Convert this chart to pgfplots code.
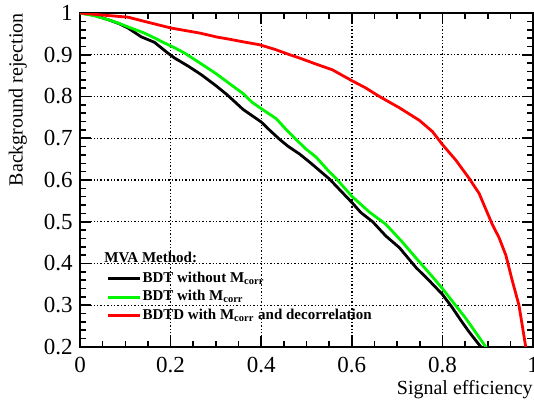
\documentclass[border=0pt]{standalone}
\usepackage{pgfplots}
\pgfplotsset{compat=1.18}
\usepackage{fontspec}
\setmainfont{Liberation Serif}
\definecolor{rootgreen}{RGB}{0,245,0}
\definecolor{rootred}{RGB}{255,0,0}
\begin{document}
\begin{tikzpicture}
\begin{axis}[
  scale only axis,
  width=226.5pt, height=167pt,
  xmin=0, xmax=1, ymin=0.2, ymax=1,
  xtick={0,0.2,0.4,0.6,0.8,1},
  ytick={0.2,0.3,0.4,0.5,0.6,0.7,0.8,0.9,1},
  xticklabels={0,0.2,0.4,0.6,0.8,1},
  yticklabels={0.2,0.3,0.4,0.5,0.6,0.7,0.8,0.9,1},
  minor x tick num=3,
  minor y tick num=4,
  tick align=inside,
  xtick pos=both, ytick pos=both,
  xticklabel pos=lower, yticklabel pos=left,
  major tick length=5.5pt, minor tick length=3pt,
  every tick/.style={black, line width=0.8pt},
  axis line style={line width=1pt},
  grid=major,
  major grid style={black, line width=0.7pt, dash pattern=on 0.7pt off 1pt},
  /pgf/number format/assume math mode=true,
  ticklabel style={font=\fontsize{11.5}{13}\selectfont},
  yticklabel style={inner sep=0pt, xshift=-3.5pt},
  xticklabel style={inner sep=0pt, yshift=-5pt},
  xlabel={Signal efficiency},
  ylabel={Background rejection},
  label style={font=\fontsize{11}{13}\selectfont},
  every axis x label/.style={at={(rel axis cs:1,0)}, anchor=base east, yshift=-24pt, inner sep=0pt},
  every axis y label/.style={at={(rel axis cs:-0.137,1)}, rotate=90, anchor=east, inner sep=0pt},
  legend style={draw=none, fill=none, at={(axis cs:0.059,0.384)}, anchor=north west,
    font=\fontsize{7.5}{9}\selectfont\bfseries, inner sep=0pt, outer sep=0pt,
    row sep=0.8pt, nodes={inner sep=0.5pt, text height=5.5pt, text depth=2pt}},
  legend cell align=left,
  legend image code/.code={\draw[#1, line width=1.4pt] (0pt,0pt) -- (16pt,0pt);},
]
\addplot[black, line width=1.4pt] coordinates {
(0,1) (0.03,0.995) (0.062,0.984) (0.085,0.975) (0.106,0.964) (0.135,0.943)
(0.164,0.930) (0.194,0.904) (0.209,0.892) (0.240,0.872) (0.268,0.852)
(0.300,0.826) (0.326,0.803) (0.360,0.769) (0.400,0.739) (0.420,0.718)
(0.441,0.697) (0.459,0.681) (0.485,0.662) (0.510,0.640) (0.551,0.602)
(0.602,0.544) (0.620,0.522) (0.646,0.500) (0.675,0.466) (0.705,0.438)
(0.742,0.390) (0.770,0.360) (0.800,0.326) (0.822,0.294) (0.840,0.265)
(0.859,0.236) (0.885,0.200) (0.892,0.190)
};
\addlegendentry{BDT without M\textsubscript{corr}}
\addplot[rootgreen, line width=1.4pt] coordinates {
(0,1) (0.03,0.994) (0.062,0.984) (0.084,0.976) (0.110,0.965) (0.142,0.952)
(0.165,0.940) (0.187,0.928) (0.210,0.916) (0.231,0.904) (0.268,0.878)
(0.300,0.855) (0.326,0.834) (0.360,0.807) (0.380,0.786) (0.400,0.771)
(0.433,0.747) (0.455,0.721) (0.477,0.697) (0.499,0.674) (0.521,0.655)
(0.550,0.620) (0.565,0.604) (0.601,0.560) (0.638,0.524) (0.675,0.494)
(0.711,0.452) (0.749,0.404) (0.775,0.372) (0.800,0.340)
(0.852,0.268) (0.896,0.200) (0.903,0.190)
};
\addlegendentry{BDT with M\textsubscript{corr}}
\addplot[rootred, line width=1.4pt] coordinates {
(0,1) (0.05,0.995) (0.106,0.990) (0.142,0.980) (0.201,0.964) (0.264,0.952)
(0.304,0.942) (0.326,0.938) (0.360,0.931) (0.396,0.924) (0.430,0.913)
(0.463,0.900) (0.485,0.892) (0.520,0.878) (0.557,0.864) (0.600,0.838)
(0.630,0.821) (0.661,0.800) (0.705,0.773) (0.749,0.743) (0.778,0.716)
(0.800,0.685) (0.830,0.647) (0.859,0.604) (0.881,0.568) (0.895,0.532)
(0.910,0.494) (0.925,0.462) (0.940,0.420) (0.954,0.360) (0.969,0.300)
(0.984,0.200) (0.990,0.170)
};
\addlegendentry{BDTD with M\textsubscript{corr} and decorrelation}
\node[anchor=base west, inner sep=0pt, font=\fontsize{7.5}{9}\selectfont\bfseries] at (axis cs:0.053,0.403) {MVA Method:};
\end{axis}
\pgfresetboundingbox
\path ([shift={(-40pt,-29pt)}]current axis.south west) rectangle ([shift={(0.5pt,6.5pt)}]current axis.north east);
\end{tikzpicture}
\end{document}
